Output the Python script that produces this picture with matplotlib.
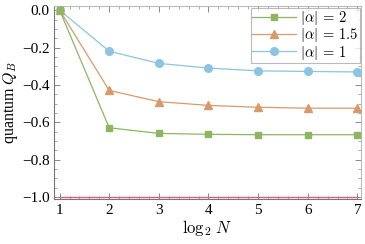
import matplotlib

matplotlib.use("Agg")
import matplotlib.pyplot as plt
from matplotlib.ticker import MultipleLocator

log2N = [1, 2, 3, 4, 5, 6, 7]
q_alpha2 = [0.0, -0.63, -0.66, -0.665, -0.667, -0.667, -0.667]
q_alpha15 = [0.0, -0.43, -0.49, -0.51, -0.52, -0.525, -0.525]
q_alpha1 = [0.0, -0.22, -0.285, -0.31, -0.325, -0.328, -0.331]
classical_bound = [-1.0, -1.0]
bound_x = [1, 7]

plt.rcParams["font.family"] = ["Liberation Serif", "DejaVu Serif"]
plt.rcParams["mathtext.fontset"] = "cm"

fig = plt.figure(figsize=(3.65, 2.44), dpi=100)
ax = fig.add_axes([0.147, 0.184, 0.843, 0.791])

green = "#8db660"
orange = "#d89a6a"
blue = "#8cc4e2"
red = "#d8607a"

ax.plot(bound_x, classical_bound, color=red, lw=1.0, zorder=2)
ax.plot(log2N, q_alpha2, color=green, lw=0.9, marker="s", ms=5, label=r"$|\alpha|\,=\,2$", zorder=5)
ax.plot(log2N, q_alpha15, color=orange, lw=0.9, marker="^", ms=6, label=r"$|\alpha|\,=\,1.5$", zorder=4)
ax.plot(log2N, q_alpha1, color=blue, lw=0.9, marker="o", ms=5.5, label=r"$|\alpha|\,=\,1$", zorder=3)

ax.set_xlim(0.88, 7.08)
ax.set_ylim(-1.012, 0.022)
ax.xaxis.set_major_locator(MultipleLocator(1))
ax.xaxis.set_minor_locator(MultipleLocator(0.2))
ax.yaxis.set_minor_locator(MultipleLocator(0.05))
ax.set_yticks([-1.0, -0.8, -0.6, -0.4, -0.2, 0.0])
ax.set_yticklabels(["\u22121.0", "\u22120.8", "\u22120.6", "\u22120.4", "\u22120.2", "0.0"])
ax.tick_params(which="both", direction="in", top=True, right=True, colors="#888888",
               labelcolor="black", labelsize=11)
ax.tick_params(which="major", length=4, width=0.7)
ax.tick_params(which="minor", length=2, width=0.5)
ax.tick_params(axis="y", pad=3)
for side in ["left", "bottom"]:
    ax.spines[side].set_color("#777777")
for side in ["top", "right"]:
    ax.spines[side].set_color("#bbbbbb")

ax.set_xlabel(r"$\log_2\, N$", fontsize=12, labelpad=1)
ax.set_ylabel(r"quantum $Q_B$", fontsize=11.5, labelpad=1)

leg = ax.legend(loc="upper right", fontsize=10.5, frameon=True, fancybox=False,
                edgecolor="#aaaaaa", handlelength=3.0, borderpad=0.1,
                labelspacing=-0.05, handletextpad=0.3, borderaxespad=0.1)
leg.get_frame().set_linewidth(0.8)

fig.savefig("out.png", dpi=100)
